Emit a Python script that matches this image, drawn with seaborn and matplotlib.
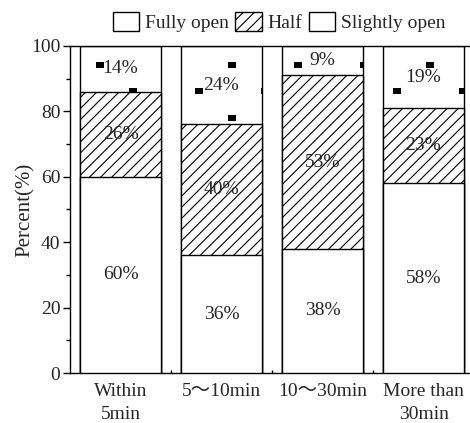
import numpy as np
import pandas as pd
import matplotlib
matplotlib.use("Agg")
import matplotlib.pyplot as plt
import seaborn as sns
from matplotlib.patches import Patch
from matplotlib.ticker import MultipleLocator, FixedLocator

# Share of window-opening states by opening duration
categories = ["Within\n5min", "5～10min", "10～30min", "More than\n30min"]
fully_open = [60, 36, 38, 58]
half_open = [26, 40, 53, 23]
slightly_open = [14, 24, 9, 19]
series_names = ["Fully open", "Half", "Slightly open"]
y_ticks = [0, 20, 40, 60, 80, 100]

sns.set_theme(style="ticks")
plt.rcParams["font.family"] = ["Liberation Serif", "Noto Sans CJK SC"]
plt.rcParams["hatch.linewidth"] = 0.8
plt.rcParams["hatch.color"] = "black"
FS = 14

df = pd.DataFrame({
    "duration": categories,
    "fully": fully_open,
    "half": half_open,
    "slight": slightly_open,
})
df["fully_half"] = df["fully"] + df["half"]
df["total"] = df["fully_half"] + df["slight"]

fig = plt.figure(figsize=(4.7, 4.23), dpi=100)
ax = fig.add_axes([70 / 470, 50 / 423, 404 / 470, 327 / 423])

bar_kw = dict(x="duration", color="white", edgecolor="black", linewidth=1.0,
              width=0.8, saturation=1, errorbar=None, ax=ax)

# Stacks drawn from the full height down, each layer covering the one beneath
sns.barplot(data=df, y="total", zorder=1, **bar_kw)
top_patches = list(ax.patches)

# Sparse square-dot fill for the "Slightly open" segment
half_step = 0.3267
row_step = 8.1
for i, patch in enumerate(top_patches):
    xs_all, ys_all = [], []
    for k in range(13):
        y = 94.2 - row_step * k
        start = -0.203 if k % 2 == 0 else -0.203 + half_step
        xs = np.arange(start - 4 * half_step, 4.0, 2 * half_step)
        xs = xs[(xs > i - 0.45) & (xs < i + 0.45)]
        xs_all.extend(xs)
        ys_all.extend([y] * len(xs))
    sc = ax.scatter(xs_all, ys_all, marker=[(-1, -0.72), (1, -0.72), (1, 0.72), (-1, 0.72)],
                    s=28, color="black", linewidths=0, zorder=1.5)
    sc.set_clip_path(patch)

sns.barplot(data=df, y="fully_half", hatch="///", zorder=2, **bar_kw)
sns.barplot(data=df, y="fully", zorder=3, **bar_kw)

# Percentage labels centred in each segment
for i in range(len(categories)):
    f, h, s = fully_open[i], half_open[i], slightly_open[i]
    ax.text(i, f / 2, f"{f}%", ha="center", va="center", fontsize=FS, zorder=5)
    ax.text(i, f + h / 2, f"{h}%", ha="center", va="center", fontsize=FS, zorder=5)
    ax.text(i, f + h + s / 2, f"{s}%", ha="center", va="center", fontsize=FS, zorder=5)

ax.set_ylim(0, 100)
ax.set_xlim(-0.5, 3.5)
ax.yaxis.set_major_locator(FixedLocator(y_ticks))
ax.yaxis.set_minor_locator(MultipleLocator(10))
ax.xaxis.set_minor_locator(FixedLocator([0.5, 1.5, 2.5]))
ax.tick_params(axis="y", which="major", direction="out", length=5, width=1,
               labelsize=FS, pad=2, color="black")
ax.tick_params(axis="y", which="minor", direction="out", length=3, width=1, color="black")
ax.tick_params(axis="x", which="major", direction="in", length=5, width=1,
               labelsize=FS, pad=7, color="black")
ax.tick_params(axis="x", which="minor", direction="in", length=2, width=1, color="black")
for lab in ax.get_xticklabels():
    lab.set_linespacing(1.5)

ax.set_xlabel("")
ax.set_ylabel("Percent(%)", fontsize=15, labelpad=-3)
for sp in ax.spines.values():
    sp.set_color("black")
    sp.set_linewidth(1.0)

handles = [
    Patch(facecolor="white", edgecolor="black", linewidth=1.0),
    Patch(facecolor="white", edgecolor="black", linewidth=1.0, hatch="///"),
    Patch(facecolor="white", edgecolor="black", linewidth=1.0),
]
fig.legend(handles, series_names, loc="center", bbox_to_anchor=(279 / 470, 1 - 22 / 423),
           ncol=3, frameon=False, fontsize=FS, handlelength=1.35, handleheight=1.15,
           handletextpad=0.3, columnspacing=0.35, borderaxespad=0, borderpad=0)

fig.savefig("out.png", dpi=100)
